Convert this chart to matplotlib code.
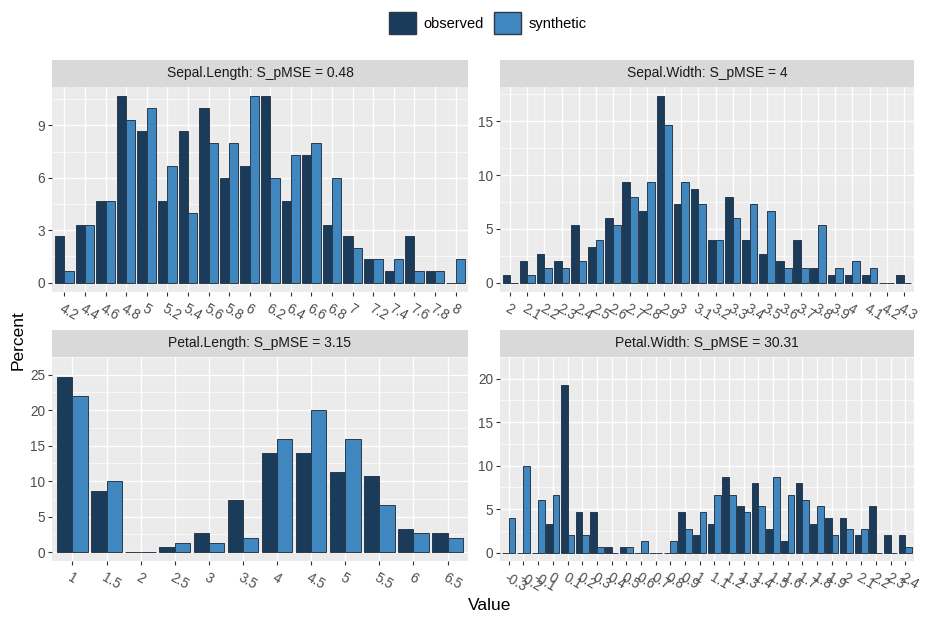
import numpy as np
import matplotlib.pyplot as plt
from matplotlib.patches import Patch

plt.rcParams['font.family'] = ['Liberation Sans', 'DejaVu Sans']

# percent of records per bin, observed vs synthetic
sl_labels = ['4.2', '4.4', '4.6', '4.8', '5', '5.2', '5.4', '5.6', '5.8', '6',
             '6.2', '6.4', '6.6', '6.8', '7', '7.2', '7.4', '7.6', '7.8', '8']
sl_obs = [2.67, 3.33, 4.67, 10.67, 8.67, 4.67, 8.67, 10.0, 6.0, 6.67,
          10.67, 4.67, 7.33, 3.33, 2.67, 1.33, 0.67, 2.67, 0.67, 0.0]
sl_syn = [0.67, 3.33, 4.67, 9.33, 10.0, 6.67, 4.0, 8.0, 8.0, 10.67,
          6.0, 7.33, 8.0, 6.0, 2.0, 1.33, 1.33, 0.67, 0.67, 1.33]

sw_labels = ['2', '2.1', '2.2', '2.3', '2.4', '2.5', '2.6', '2.7', '2.8', '2.9',
             '3', '3.1', '3.2', '3.3', '3.4', '3.5', '3.6', '3.7', '3.8', '3.9',
             '4', '4.1', '4.2', '4.3']
sw_obs = [0.67, 2.0, 2.67, 2.0, 5.33, 3.33, 6.0, 9.33, 6.67, 17.33,
          7.33, 8.67, 4.0, 8.0, 4.0, 2.67, 2.0, 4.0, 1.33, 0.67,
          0.67, 0.67, 0.0, 0.67]
sw_syn = [0.0, 0.67, 1.33, 1.33, 2.0, 4.0, 5.33, 8.0, 9.33, 14.67,
          9.33, 7.33, 4.0, 6.0, 7.33, 6.67, 1.33, 1.33, 5.33, 1.33,
          2.0, 1.33, 0.0, 0.0]

pl_labels = ['1', '1.5', '2', '2.5', '3', '3.5', '4', '4.5', '5', '5.5', '6', '6.5']
pl_obs = [24.67, 8.67, 0.0, 0.67, 2.67, 7.33, 14.0, 14.0, 11.33, 10.67, 3.33, 2.67]
pl_syn = [22.0, 10.0, 0.0, 1.33, 1.33, 2.0, 16.0, 20.0, 16.0, 6.67, 2.67, 2.0]

pw_labels = ['-0.3', '-0.2', '-0.1', '0', '0.1', '0.2', '0.3', '0.4', '0.5', '0.6',
             '0.7', '0.8', '0.9', '1', '1.1', '1.2', '1.3', '1.4', '1.5', '1.6',
             '1.7', '1.8', '1.9', '2', '2.1', '2.2', '2.3', '2.4']
pw_obs = [0, 0, 0, 3.33, 19.33, 4.67, 4.67, 0.67, 0.67, 0,
          0, 0, 4.67, 2.0, 3.33, 8.67, 5.33, 8.0, 2.67, 1.33,
          8.0, 3.33, 4.0, 4.0, 2.0, 5.33, 2.0, 2.0]
pw_syn = [4.0, 10.0, 6.0, 6.67, 2.0, 2.0, 0.67, 0, 0.67, 1.33,
          0, 1.33, 2.67, 4.67, 6.67, 6.67, 4.67, 5.33, 8.67, 6.67,
          6.0, 5.33, 2.0, 2.67, 2.67, 0, 0, 0.67]

titles = ['Sepal.Length: S_pMSE = 0.48', 'Sepal.Width: S_pMSE = 4',
          'Petal.Length: S_pMSE = 3.15', 'Petal.Width: S_pMSE = 30.31']
yticks = [[0, 3, 6, 9], [0, 5, 10, 15], [0, 5, 10, 15, 20, 25], [0, 5, 10, 15, 20]]

obs_col = '#1A3C5A'
syn_col = '#4187BF'
edge_col = '#2A3A4C'

W, H = 926, 617


def px(l, t, r, b):
    return [l / W, 1 - b / H, (r - l) / W, (b - t) / H]


fig = plt.figure(figsize=(W / 100, H / 100), dpi=100)

panels = [(52, 87, 468, 292), (500, 87, 914, 292), (52, 357, 468, 561), (500, 357, 914, 561)]
data = [(sl_labels, sl_obs, sl_syn), (sw_labels, sw_obs, sw_syn),
        (pl_labels, pl_obs, pl_syn), (pw_labels, pw_obs, pw_syn)]

for (l, t, r, b), (labels, obs, syn), title, yt in zip(panels, data, titles, yticks):
    ax = fig.add_axes(px(l, t, r, b))
    n = len(labels)
    x = np.arange(1, n + 1)
    ax.set_facecolor('#EBEBEB')
    ax.bar(x - 0.225, obs, width=0.45, color=obs_col, edgecolor=edge_col, linewidth=0.7, zorder=3)
    ax.bar(x + 0.225, syn, width=0.45, color=syn_col, edgecolor=edge_col, linewidth=0.7, zorder=3)
    top = max(max(obs), max(syn))
    ax.set_ylim(-0.05 * top, 1.05 * top)
    ax.set_xlim(0.4, n + 0.6)
    ax.set_yticks(yt)
    ax.set_yticks([v + (yt[1] - yt[0]) / 2 for v in yt], minor=True)
    ax.set_xticks(x)
    ax.set_xticklabels(labels, rotation=-30, ha='left', va='top', rotation_mode='anchor')
    ax.grid(which='major', color='white', linewidth=1.0, zorder=0)
    ax.grid(which='minor', axis='y', color='white', linewidth=0.5, zorder=0)
    ax.tick_params(which='major', length=3, color='#333333', labelcolor='#4D4D4D', labelsize=9.8, pad=2)
    ax.tick_params(axis='x', pad=4)
    ax.tick_params(which='minor', length=0)
    for s in ax.spines.values():
        s.set_visible(False)
    ax.set_axisbelow(True)

    sax = fig.add_axes(px(l, t - 27, r, t))
    sax.set_facecolor('#D9D9D9')
    sax.set_xticks([])
    sax.set_yticks([])
    for s in sax.spines.values():
        s.set_visible(False)
    sax.text(0.5, 0.5, title, ha='center', va='center', fontsize=10, color='#1A1A1A',
             transform=sax.transAxes)

fig.text(18 / W, 1 - 340 / H, 'Percent', rotation=90, ha='center', va='center', fontsize=12.5)
fig.text(490 / W, 1 - 605 / H, 'Value', ha='center', va='center', fontsize=12.5)

handles = [Patch(facecolor=obs_col, edgecolor=edge_col, label='observed'),
           Patch(facecolor=syn_col, edgecolor=edge_col, label='synthetic')]
fig.legend(handles=handles, loc='center', bbox_to_anchor=(488 / W, 1 - 23 / H), ncol=2,
           frameon=False, fontsize=10.5, handlelength=1.85, handleheight=1.85,
           handletextpad=0.5, columnspacing=0.7)

fig.savefig('out.png', dpi=100)
